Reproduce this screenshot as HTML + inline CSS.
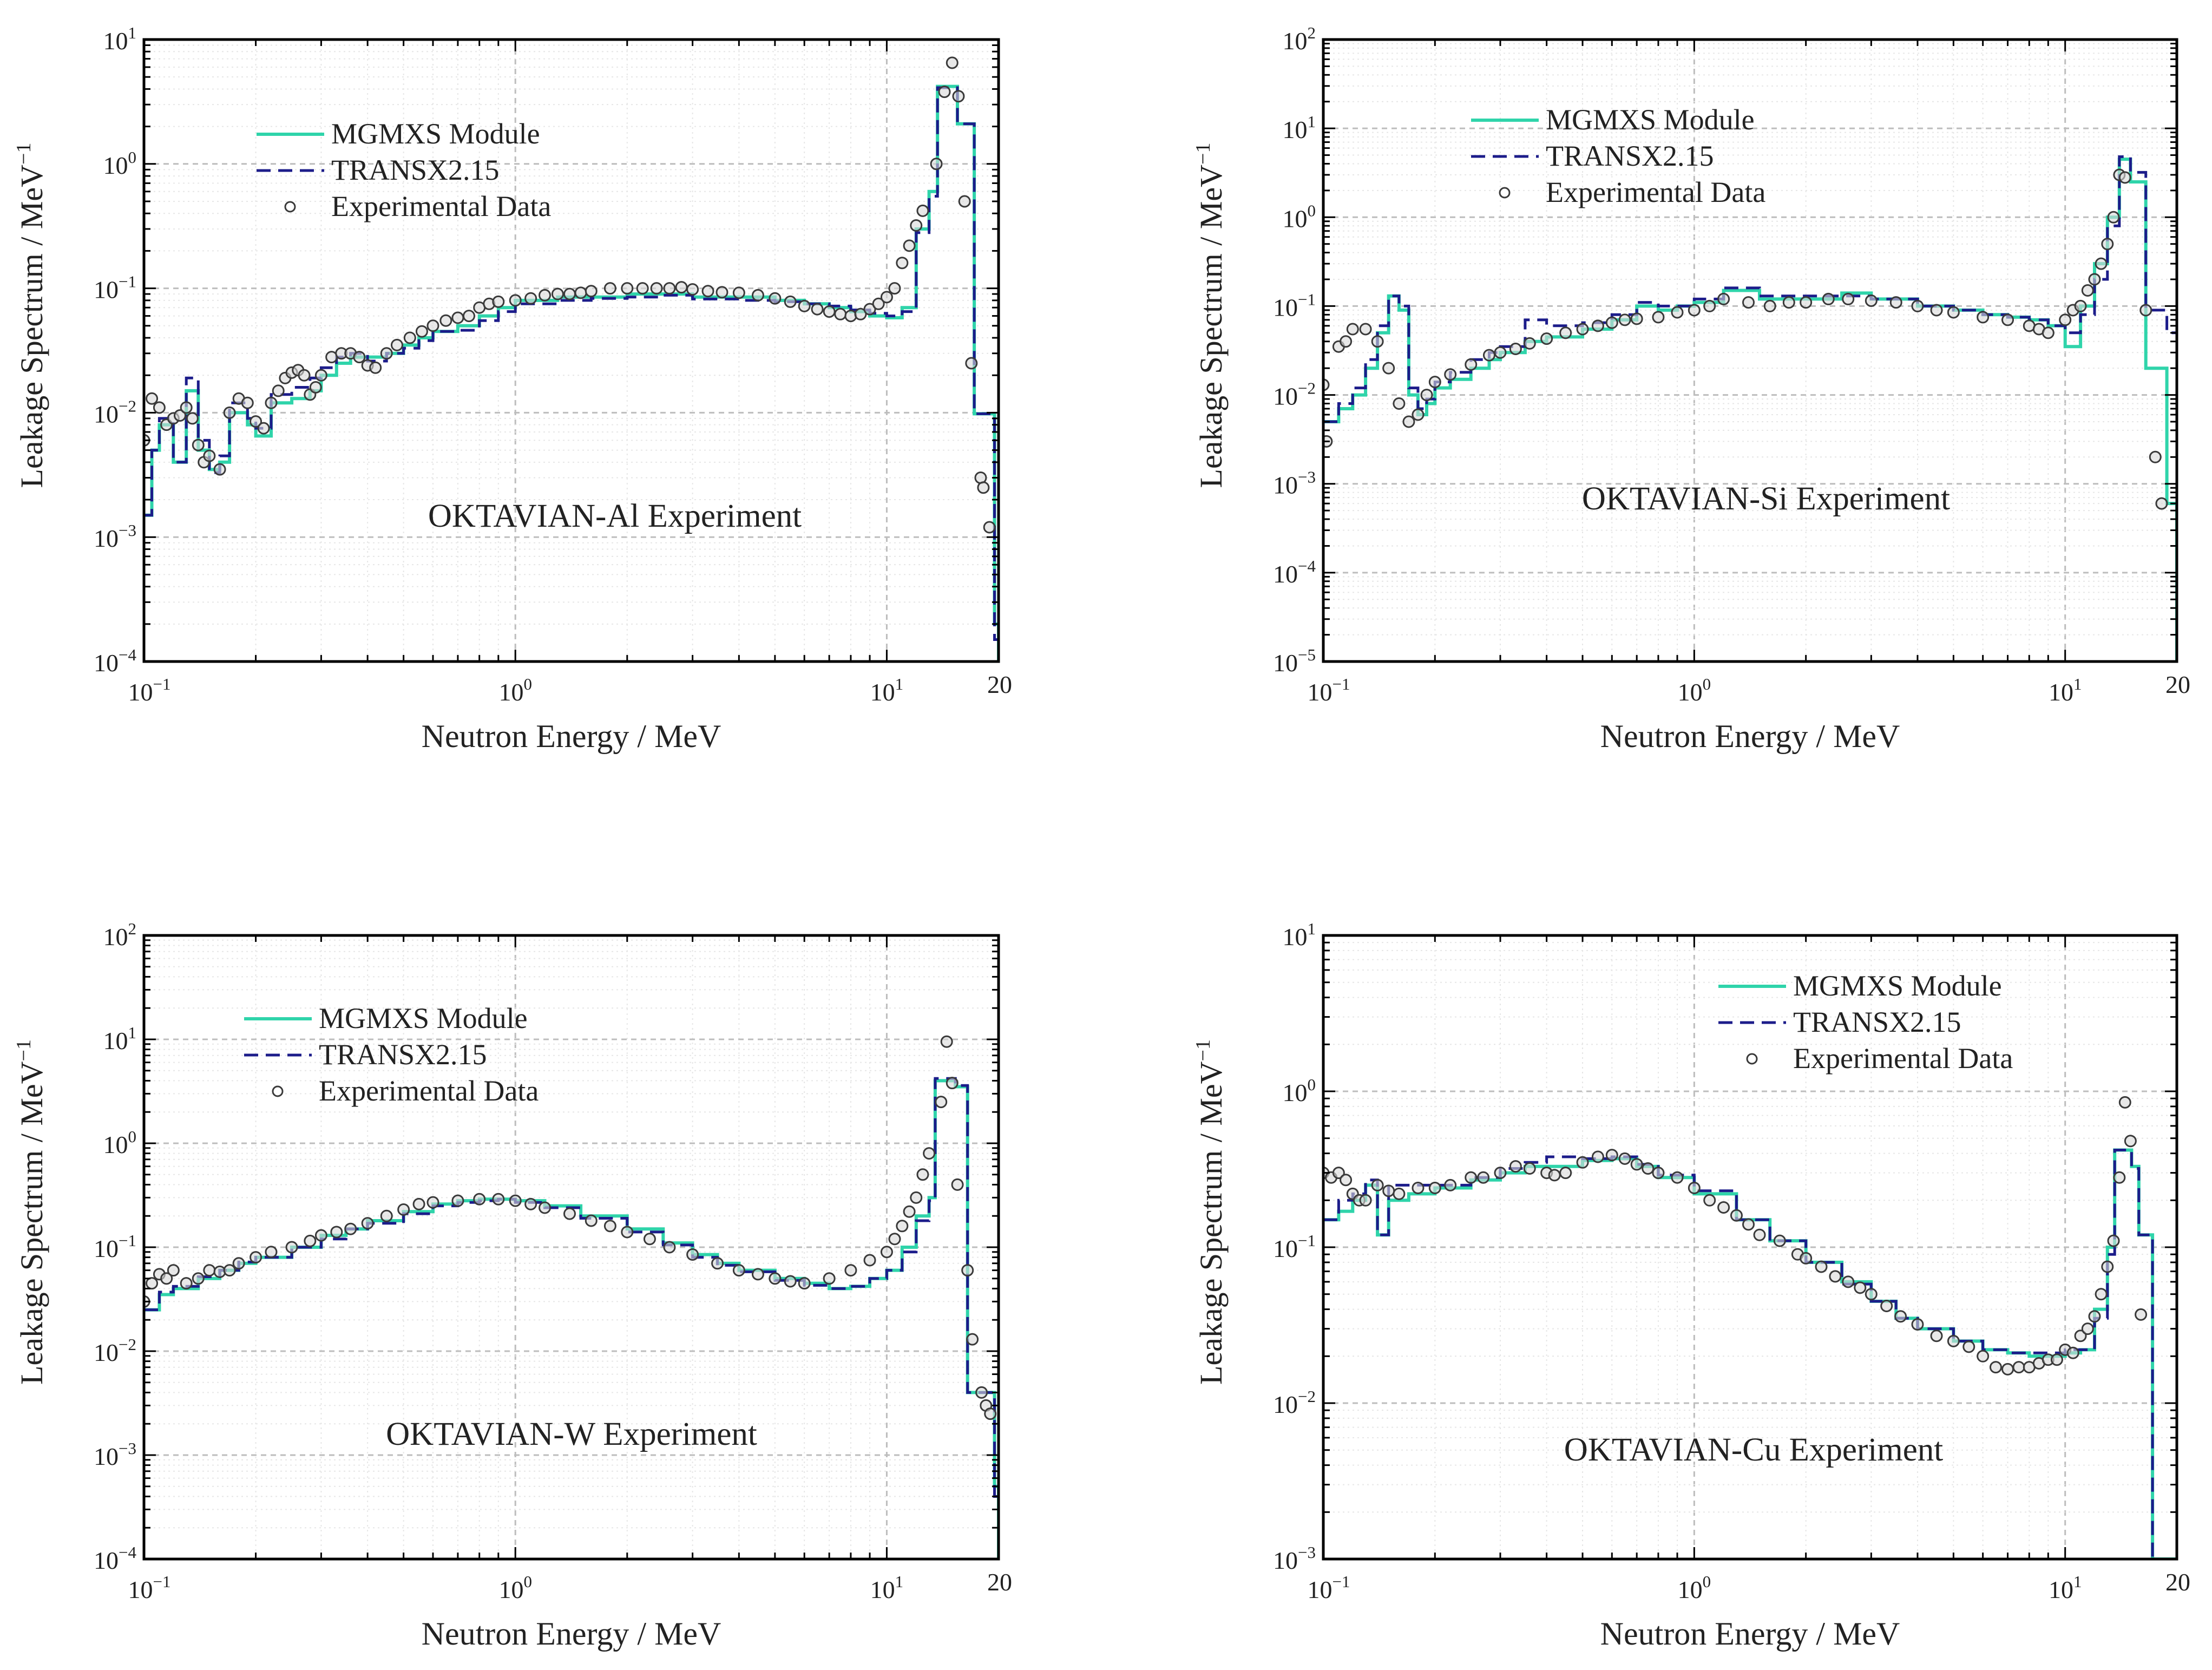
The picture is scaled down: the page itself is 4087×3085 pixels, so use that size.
<!DOCTYPE html>
<html><head><meta charset="utf-8">
<style>
html,body{margin:0;padding:0;background:#fff;}
svg{display:block;font-family:"Liberation Serif","DejaVu Serif",serif;}
</style></head>
<body>
<svg id="fig" xmlns="http://www.w3.org/2000/svg" width="4087" height="3085" viewBox="0 0 4087 3085">
<rect width="4087" height="3085" fill="#fff"/>
</svg>
<script>
// ---------- Data: OKTAVIAN-Al ----------
const alE   = [0.1,0.105,0.11,0.12,0.13,0.14,0.15,0.16,0.17,0.19,0.2,0.22,0.25,0.28,0.3,0.33,0.36,0.4,0.45,0.5,0.55,0.6,0.7,0.8,0.9,1,1.3,1.6,2,2.5,3,4,5,6,7,8,9,10,11,12,13,13.7,15.5,17.2,19.5];
const alMG  = [0.0015,0.005,0.008,0.004,0.015,0.005,0.0035,0.004,0.01,0.008,0.0065,0.012,0.013,0.015,0.02,0.025,0.028,0.028,0.03,0.035,0.04,0.045,0.05,0.06,0.07,0.08,0.085,0.085,0.09,0.09,0.085,0.085,0.08,0.075,0.07,0.065,0.06,0.058,0.07,0.3,0.6,4.2,2.1,0.0098,0.0002];
const alTX  = [0.0015,0.005,0.009,0.004,0.019,0.006,0.0033,0.0045,0.012,0.009,0.0075,0.014,0.016,0.019,0.023,0.028,0.03,0.026,0.03,0.033,0.038,0.045,0.046,0.055,0.065,0.075,0.08,0.083,0.085,0.088,0.082,0.08,0.078,0.075,0.072,0.067,0.063,0.06,0.065,0.28,0.55,4.1,2.1,0.0098,0.00015];
const alExpE = [0.1,0.105,0.11,0.115,0.12,0.125,0.13,0.135,0.14,0.145,0.15,0.16,0.17,0.18,0.19,0.2,0.21,0.22,0.23,0.24,0.25,0.26,0.27,0.28,0.29,0.3,0.32,0.34,0.36,0.38,0.4,0.42,0.45,0.48,0.52,0.56,0.6,0.65,0.7,0.75,0.8,0.85,0.9,1,1.1,1.2,1.3,1.4,1.5,1.6,1.8,2,2.2,2.4,2.6,2.8,3,3.3,3.6,4,4.5,5,5.5,6,6.5,7,7.5,8,8.5,9,9.5,10,10.5,11,11.5,12,12.5,13.6,14.3,15.0,15.6,16.2,16.9,17.9,18.2,18.9];
const alExpY = [0.006,0.013,0.011,0.008,0.009,0.0095,0.011,0.009,0.0055,0.004,0.0045,0.0035,0.01,0.013,0.012,0.0085,0.0075,0.012,0.015,0.019,0.021,0.022,0.02,0.014,0.016,0.02,0.028,0.03,0.03,0.028,0.024,0.023,0.03,0.035,0.04,0.045,0.05,0.055,0.058,0.06,0.07,0.075,0.078,0.08,0.083,0.088,0.09,0.09,0.092,0.095,0.1,0.1,0.1,0.1,0.1,0.102,0.098,0.095,0.093,0.092,0.088,0.083,0.078,0.072,0.068,0.065,0.062,0.06,0.062,0.068,0.075,0.085,0.1,0.16,0.22,0.32,0.42,1.0,3.8,6.5,3.5,0.5,0.025,0.003,0.0025,0.0012];

// ---------- Data: OKTAVIAN-Si ----------
const siE   = [0.1,0.11,0.12,0.13,0.14,0.15,0.16,0.17,0.18,0.19,0.2,0.22,0.25,0.28,0.3,0.35,0.4,0.5,0.6,0.7,0.8,0.9,1,1.2,1.5,2,2.5,3,4,5,6,7,8,9,10,11,12,13,14,15,16.5,18.8];
const siMG  = [0.005,0.007,0.01,0.02,0.05,0.13,0.09,0.01,0.006,0.008,0.012,0.015,0.02,0.025,0.03,0.04,0.045,0.055,0.07,0.1,0.09,0.1,0.11,0.15,0.12,0.12,0.14,0.12,0.1,0.09,0.08,0.075,0.07,0.06,0.035,0.1,0.3,1.0,4.5,2.5,0.02,0.0006];
const siTX  = [0.005,0.008,0.012,0.025,0.06,0.13,0.1,0.012,0.007,0.009,0.014,0.018,0.025,0.03,0.035,0.07,0.06,0.065,0.08,0.11,0.1,0.1,0.12,0.16,0.13,0.13,0.13,0.12,0.1,0.09,0.08,0.075,0.07,0.06,0.05,0.08,0.2,0.8,4.8,3.2,0.09,0.05];
const siExpE = [0.1,0.102,0.11,0.115,0.12,0.13,0.14,0.15,0.16,0.17,0.18,0.19,0.2,0.22,0.25,0.28,0.3,0.33,0.36,0.4,0.45,0.5,0.55,0.6,0.65,0.7,0.8,0.9,1,1.1,1.2,1.4,1.6,1.8,2,2.3,2.6,3,3.5,4,4.5,5,6,7,8,8.5,9,10,10.5,11,11.5,12,12.5,13,13.5,14,14.5,16.5,17.5,18.2];
const siExpY = [0.013,0.003,0.035,0.04,0.055,0.055,0.04,0.02,0.008,0.005,0.006,0.01,0.014,0.017,0.022,0.028,0.03,0.033,0.038,0.043,0.05,0.055,0.06,0.065,0.07,0.072,0.075,0.085,0.09,0.1,0.12,0.11,0.1,0.11,0.11,0.12,0.12,0.115,0.11,0.1,0.09,0.085,0.075,0.07,0.06,0.055,0.05,0.07,0.09,0.1,0.15,0.2,0.3,0.5,1.0,3.0,2.8,0.09,0.002,0.0006];

// ---------- Data: OKTAVIAN-W ----------
const wE   = [0.1,0.11,0.12,0.14,0.16,0.18,0.2,0.25,0.3,0.35,0.4,0.5,0.6,0.7,0.8,0.9,1,1.2,1.5,2,2.5,3,3.5,4,5,6,7,8,9,10,11,12,13,13.5,15.3,16.5,18.2,19.5];
const wMG  = [0.025,0.035,0.04,0.05,0.06,0.07,0.08,0.1,0.13,0.15,0.18,0.22,0.26,0.28,0.29,0.29,0.28,0.25,0.2,0.15,0.11,0.085,0.07,0.06,0.05,0.045,0.04,0.042,0.05,0.06,0.1,0.2,0.3,4.0,3.5,0.004,0.004,0.0005];
const wTX  = [0.025,0.037,0.042,0.052,0.06,0.072,0.08,0.1,0.12,0.15,0.17,0.21,0.25,0.27,0.28,0.29,0.27,0.24,0.19,0.14,0.105,0.08,0.067,0.058,0.048,0.043,0.04,0.042,0.05,0.06,0.09,0.18,0.28,4.2,3.6,0.004,0.004,0.0004];
const wExpE = [0.1,0.105,0.11,0.115,0.12,0.13,0.14,0.15,0.16,0.17,0.18,0.2,0.22,0.25,0.28,0.3,0.33,0.36,0.4,0.45,0.5,0.55,0.6,0.7,0.8,0.9,1,1.1,1.2,1.4,1.6,1.8,2,2.3,2.6,3,3.5,4,4.5,5,5.5,6,7,8,9,10,10.5,11,11.5,12,12.5,13,14,14.5,15,15.5,16.5,17,18,18.5,19];
const wExpY = [0.03,0.045,0.055,0.05,0.06,0.045,0.05,0.06,0.058,0.06,0.07,0.08,0.09,0.1,0.115,0.13,0.14,0.15,0.17,0.2,0.23,0.26,0.27,0.28,0.29,0.29,0.28,0.26,0.24,0.21,0.18,0.16,0.14,0.12,0.1,0.085,0.07,0.06,0.055,0.05,0.047,0.045,0.05,0.06,0.075,0.09,0.12,0.16,0.22,0.3,0.5,0.8,2.5,9.5,3.8,0.4,0.06,0.013,0.004,0.003,0.0025];

// ---------- Data: OKTAVIAN-Cu ----------
const cuE   = [0.1,0.11,0.12,0.13,0.14,0.15,0.17,0.2,0.25,0.3,0.35,0.4,0.5,0.6,0.7,0.8,1,1.3,1.6,2,2.5,3,3.5,4,5,6,7,8,10,11,12,13,13.6,15.1,15.8,17.2];
const cuMG  = [0.15,0.17,0.2,0.25,0.12,0.2,0.22,0.24,0.27,0.3,0.33,0.33,0.36,0.37,0.33,0.28,0.22,0.15,0.11,0.08,0.06,0.045,0.035,0.03,0.025,0.022,0.021,0.02,0.021,0.022,0.04,0.1,0.42,0.33,0.12,0.0005];
const cuTX  = [0.15,0.2,0.22,0.27,0.12,0.25,0.25,0.25,0.28,0.32,0.35,0.38,0.37,0.38,0.34,0.29,0.23,0.15,0.11,0.08,0.058,0.045,0.035,0.03,0.025,0.022,0.021,0.021,0.022,0.022,0.035,0.09,0.42,0.32,0.12,0.0005];
const cuExpE = [0.1,0.105,0.11,0.115,0.12,0.125,0.13,0.14,0.15,0.16,0.18,0.2,0.22,0.25,0.27,0.3,0.33,0.36,0.4,0.42,0.45,0.5,0.55,0.6,0.65,0.7,0.75,0.8,0.9,1,1.1,1.2,1.3,1.4,1.5,1.7,1.9,2,2.2,2.4,2.6,2.8,3,3.3,3.6,4,4.5,5,5.5,6,6.5,7,7.5,8,8.5,9,9.5,10,10.5,11,11.5,12,12.5,13,13.5,14,14.5,15,16];
const cuExpY = [0.3,0.28,0.3,0.27,0.22,0.2,0.2,0.25,0.23,0.22,0.24,0.24,0.25,0.28,0.28,0.3,0.33,0.32,0.3,0.29,0.3,0.35,0.38,0.39,0.37,0.34,0.32,0.3,0.28,0.24,0.2,0.18,0.16,0.14,0.12,0.11,0.09,0.085,0.075,0.065,0.06,0.055,0.05,0.042,0.036,0.032,0.027,0.025,0.023,0.02,0.017,0.0165,0.017,0.017,0.018,0.019,0.019,0.022,0.021,0.027,0.03,0.036,0.05,0.075,0.11,0.28,0.85,0.48,0.037];

const NS = 'http://www.w3.org/2000/svg';
const svg = document.getElementById('fig');
function mk(tag, attrs, parent){ const e=document.createElementNS(NS,tag); for(const k in attrs) e.setAttribute(k,attrs[k]); (parent||svg).appendChild(e); return e; }

const MG_COLOR = '#2fd4aa', TX_COLOR = '#1c1c8a';

const panels = [
 {name:'al', L:266,R:1845,T:73,B:1222, ymin:-4,ymax:1, E:alE,MG:alMG,TX:alTX,xE:alExpE,xY:alExpY, title:'OKTAVIAN-Al Experiment', tx:1136,ty:973, lgx:474,lgy:248},
 {name:'si', L:2445,R:4022,T:73,B:1222, ymin:-5,ymax:2, E:siE,MG:siMG,TX:siTX,xE:siExpE,xY:siExpY, title:'OKTAVIAN-Si Experiment', tx:3263,ty:941, lgx:2718,lgy:222},
 {name:'w',  L:266,R:1845,T:1728,B:2880, ymin:-4,ymax:2, E:wE,MG:wMG,TX:wTX,xE:wExpE,xY:wExpY, title:'OKTAVIAN-W Experiment', tx:1056,ty:2669, lgx:451,lgy:1882},
 {name:'cu', L:2445,R:4022,T:1728,B:2880, ymin:-3,ymax:1, E:cuE,MG:cuMG,TX:cuTX,xE:cuExpE,xY:cuExpY, title:'OKTAVIAN-Cu Experiment', tx:3240,ty:2698, lgx:3175,lgy:1822}
];

const XMIN=Math.log10(0.1), XMAX=Math.log10(20);

panels.forEach(p=>{
  const g = mk('g',{});
  
  
  const X = e => p.L + (Math.log10(e)-XMIN)/(XMAX-XMIN)*(p.R-p.L);
  const Y = v => { let lv=Math.log10(Math.max(v,1e-9)); lv=Math.max(p.ymin,Math.min(p.ymax,lv)); return p.B - (lv-p.ymin)/(p.ymax-p.ymin)*(p.B-p.T); };
  const clipId='clip-'+p.name;
  const defs=mk('defs',{},g); const cp=mk('clipPath',{id:clipId},defs); mk('rect',{x:p.L,y:p.T,width:p.R-p.L,height:p.B-p.T},cp);
  const grid = mk('g',{},g);
  
  
  for(let d=-1; d<=1; d++) for(let m=1;m<10;m++){ const e=m*Math.pow(10,d); if(e<=0.1||e>=20) continue;
    const x=X(e); mk('line',{x1:x,x2:x,y1:p.T,y2:p.B,stroke:m===1?'#bdbdbd':'#e6e6e6','stroke-width':m===1?3:2,'stroke-dasharray':m===1?'10,8':'3,6'},grid); }
  for(let d=p.ymin; d<p.ymax; d++) for(let m=1;m<10;m++){ const v=m*Math.pow(10,d); if(m===1&&d===p.ymin) continue;
    const y=Y(v); mk('line',{x1:p.L,x2:p.R,y1:y,y2:y,stroke:m===1?'#bdbdbd':'#e6e6e6','stroke-width':m===1?3:2,'stroke-dasharray':m===1?'10,8':'3,6'},grid); }
  function stepPath(E,V){ let d=''; for(let i=0;i<E.length;i++){ const x0=X(E[i]), x1=X(i+1<E.length?E[i+1]:20), y=Y(V[i]);
      d += (i===0?'M':'L')+x0.toFixed(1)+','+y.toFixed(1)+'L'+x1.toFixed(1)+','+y.toFixed(1); }
    d += 'L'+X(20).toFixed(1)+','+p.B; return d; }
  const mg = mk('path',{d:stepPath(p.E,p.MG),fill:'none',stroke:MG_COLOR,'stroke-width':6,'clip-path':'url(#'+clipId+')'},g);
  
  
  const tx = mk('path',{d:stepPath(p.E,p.TX),fill:'none',stroke:TX_COLOR,'stroke-width':5,'stroke-dasharray':'26,14','clip-path':'url(#'+clipId+')'},g);
  
  
  const pts = mk('g',{'clip-path':'url(#'+clipId+')'},g);
  
  
  for(let i=0;i<p.xE.length;i++){
    const c = mk('circle',{cx:X(p.xE[i]),cy:Y(p.xY[i]),r:10,fill:'#d8d8d8','fill-opacity':0.6,stroke:'#3a3a3a','stroke-width':3},pts);
    
    
  }
  mk('rect',{x:p.L,y:p.T,width:p.R-p.L,height:p.B-p.T,fill:'none',stroke:'#000','stroke-width':5},g);
  const ticks=mk('g',{stroke:'#000','stroke-width':3},g);
  for(let d=-1; d<=1; d++) for(let m=1;m<10;m++){ const e=m*Math.pow(10,d); if(e<0.1||e>20) continue; const x=X(e), l=m===1?22:12;
    mk('line',{x1:x,x2:x,y1:p.B,y2:p.B-l},ticks); mk('line',{x1:x,x2:x,y1:p.T,y2:p.T+l},ticks); }
  for(let d=p.ymin; d<=p.ymax; d++) for(let m=1;m<10;m++){ if(d===p.ymax&&m>1) break; const y=Y(m*Math.pow(10,d)), l=m===1?22:12;
    mk('line',{x1:p.L,x2:p.L+l,y1:y,y2:y},ticks); mk('line',{x1:p.R,x2:p.R-l,y1:y,y2:y},ticks); }
  function powLabel(x,y,exp,anchor,name){
    const t=mk('text',{x:x,y:y,'font-size':46,'text-anchor':anchor,fill:'#222'},g);
    
    
    const a=mk('tspan',{},t); a.textContent='10';
    const b=mk('tspan',{'font-size':31,dy:-20}); t.appendChild(b); b.textContent=String(exp).replace('-','\u2212');
  }
  for(let d=-1; d<=1; d++) powLabel(X(Math.pow(10,d))-(d===-1?-10:0), p.B+72, d,'middle','x-tick-label');
  const t20=mk('text',{x:X(20)+2,y:p.B+58,'font-size':46,'text-anchor':'middle',fill:'#222'},g); t20.textContent='20';
  
  
  for(let d=p.ymin; d<=p.ymax; d++) powLabel(p.L-14, Y(Math.pow(10,d))+18, d,'end','y-tick-label');
  const xt=mk('text',{x:(p.L+p.R)/2,y:p.B+158,'font-size':60,'text-anchor':'middle',fill:'#222'},g); xt.textContent='Neutron Energy / MeV';
  
  
  const yc=(p.T+p.B)/2-65, yx=p.L-188;
  const yt=mk('text',{x:yx,y:yc,'font-size':58,'text-anchor':'middle',fill:'#222',transform:'rotate(-90 '+yx+' '+yc+')'},g);
  
  
  const y1=mk('tspan',{}); yt.appendChild(y1); y1.textContent='Leakage Spectrum / MeV';
  const y2=mk('tspan',{'font-size':38,dy:-22}); yt.appendChild(y2); y2.textContent='\u22121';
  const an=mk('text',{x:p.tx,y:p.ty,'font-size':61,'text-anchor':'middle',fill:'#222'},g); an.textContent=p.title;
  
  
  const lg=mk('g',{},g);
  
  
  const lx=p.lgx, ly=p.lgy, rh=67;
  mk('line',{x1:lx,x2:lx+125,y1:ly,y2:ly,stroke:MG_COLOR,'stroke-width':6},lg);
  mk('line',{x1:lx,x2:lx+125,y1:ly+rh,y2:ly+rh,stroke:TX_COLOR,'stroke-width':5,'stroke-dasharray':'26,14'},lg);
  mk('circle',{cx:lx+62,cy:ly+2*rh,r:9,fill:'#fff',stroke:'#3a3a3a','stroke-width':3},lg);
  ['MGMXS Module','TRANSX2.15','Experimental Data'].forEach((s,i)=>{
    const t=mk('text',{x:lx+138,y:ly+i*rh+17,'font-size':54,fill:'#222'},lg); t.textContent=s;
    
    
  });
});
</script>
</body></html>
